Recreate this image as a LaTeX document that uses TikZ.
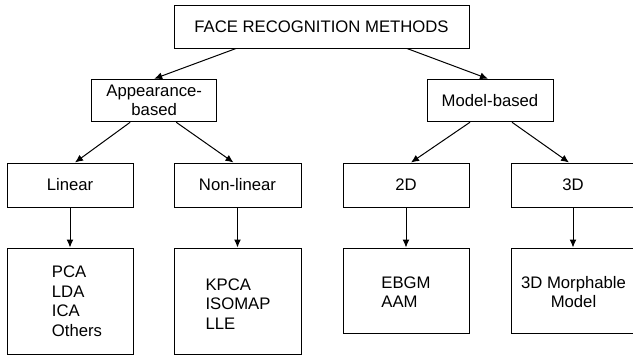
\documentclass[tikz,border=0pt]{standalone}
\usepackage{fontspec}
\setmainfont{Liberation Sans}
\usetikzlibrary{arrows.meta,calc}
\begin{document}
\begin{tikzpicture}[x=1pt,y=-1pt,
  box/.style={draw,line width=1pt,minimum width=126pt,inner sep=0pt,align=center},
  txt/.style={inner sep=0pt,align=left},
  arr/.style={line width=1pt,-{Latex[length=8pt,width=7pt]}},
  every node/.append style={font=\fontsize{16.7pt}{19.5pt}\selectfont}]
\useasboundingbox (0,0) rectangle (633,356);
\fill[white] (0,0) rectangle (633,356);
\node[box,minimum width=295pt,minimum height=43pt] (top) at (321.5,26.5) {FACE RECOGNITION METHODS};
\node[box,minimum height=42.5pt,minimum width=125pt] (app) at (154.2,100.5) {Appearance-\\based};
\node[box,minimum height=42.5pt] (model) at (490,100.5) {Model-based};
\node[box,minimum height=44pt] (lin) at (70,185) {Linear};
\node[box,minimum height=44pt,minimum width=127pt] (nonlin) at (237.5,185) {Non-linear};
\node[box,minimum height=44pt] (twod) at (406,185) {2D};
\node[box,minimum height=44pt,minimum width=124pt] (threed) at (573,185) {3D};
\node[box,minimum height=106pt] (b1) at (70,301) {};
\node[box,minimum height=106pt,minimum width=127pt] (b2) at (237.5,301) {};
\node[box,minimum height=85pt] (b3) at (406,290.5) {};
\node[box,minimum height=85pt,minimum width=124pt] (b4) at (573,290.5) {};
\node[txt] (t1) at (77,301) {PCA\\LDA\\ICA\\Others};
\node[txt] (t2) at (238,304) {KPCA\\ISOMAP\\LLE};
\node[txt] (t3) at (406,292) {EBGM\\AAM};
\node[txt,align=center] (t4) at (573.5,292) {3D Morphable\\Model};
\draw[arr] ($(top.south)+(-85.5,0)$) -- (app.north);
\draw[arr] ($(top.south)+(85.5,0)$) -- ($(model.north)+(-2,0)$);
\draw[arr] ($(app.south)+(-24,0)$) -- ($(lin.north)+(5,0)$);
\draw[arr] ($(app.south)+(22,0)$) -- ($(nonlin.north)+(-4,0)$);
\draw[arr] ($(model.south)+(-20,0)$) -- ($(twod.north)+(5,0)$);
\draw[arr] ($(model.south)+(22,0)$) -- ($(threed.north)+(-4,0)$);
\draw[arr] (lin.south) -- (b1.north);
\draw[arr] (nonlin.south) -- (b2.north);
\draw[arr] (twod.south) -- (b3.north);
\draw[arr] (threed.south) -- (b4.north);
\end{tikzpicture}
\end{document}
